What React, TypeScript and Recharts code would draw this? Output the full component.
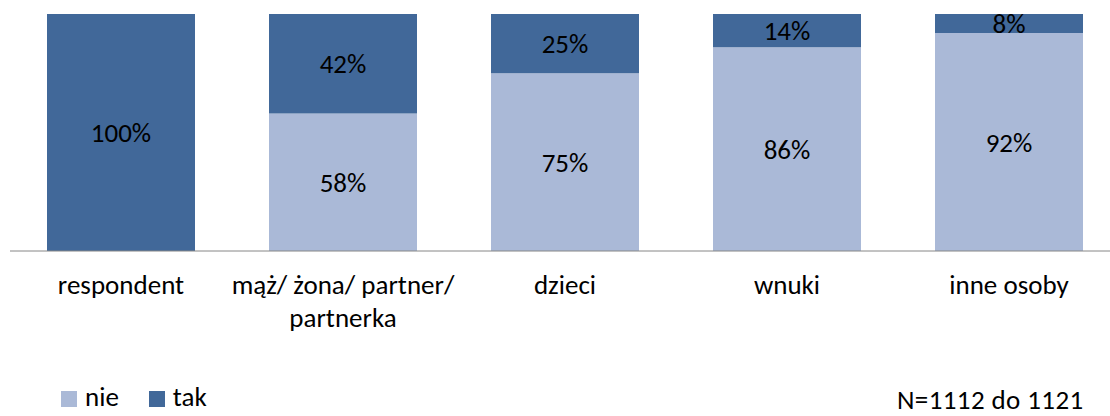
import React from 'react';
import { BarChart, Bar, XAxis, YAxis, LabelList, Legend } from 'recharts';

const categories = ['respondent', 'mąż/ żona/ partner/ partnerka', 'dzieci', 'wnuki', 'inne osoby'];
const nieValues = [0, 58, 75, 86, 92];
const takValues = [100, 42, 25, 14, 8];
const seriesNames = ['nie', 'tak'];
const seriesColors = ['#AAB9D7', '#416899'];
const sampleNote = 'N=1112 do 1121';

const FONT = 'Carlito, Lato, sans-serif';
const FONT_SIZE = 27;

const data = categories.map((c, i) => ({ name: c, nie: nieValues[i], tak: takValues[i] }));

function wrapLabel(text: string, maxChars: number): string[] {
  const words = text.split(' ');
  const lines: string[] = [];
  let cur = '';
  for (const w of words) {
    const next = cur ? cur + ' ' + w : w;
    if (next.length > maxChars && cur) {
      lines.push(cur);
      cur = w;
    } else {
      cur = next;
    }
  }
  if (cur) lines.push(cur);
  return lines;
}

const CategoryTick = (props: any) => {
  const { x, y, payload } = props;
  const lines = wrapLabel(String(payload.value), 20);
  return (
    <g>
      <text x={x} y={y} textAnchor="middle" fontFamily={FONT} fontSize={FONT_SIZE} fill="#000">
        {lines.map((l, i) => (
          <tspan key={i} x={x} y={y + 43 + i * 33}>
            {l}
          </tspan>
        ))}
      </text>
    </g>
  );
};

const LegendContent = (props: any) => {
  const { payload } = props;
  return (
    <div style={{ display: 'flex', alignItems: 'center', fontFamily: FONT, fontSize: FONT_SIZE, color: '#000', lineHeight: '26px', whiteSpace: 'nowrap' }}>
      {(payload || []).map((p: any, i: number) => (
        <div key={i} style={{ display: 'flex', alignItems: 'center', marginRight: 30 }}>
          <span style={{ display: 'inline-block', width: 16, height: 16, background: p.color, marginRight: 8, marginTop: 3 }} />
          <span>{p.value}</span>
        </div>
      ))}
    </div>
  );
};

const fmt = (v: any) => (v ? `${v}%` : '');

export default function App() {
  return (
    <div style={{ position: 'absolute', left: 0, top: 0, width: 1110, height: 416, overflow: 'hidden', background: '#fff' }}>
      <BarChart
        width={1120}
        height={416}
        data={data}
        margin={{ top: 14, right: 0, left: 10, bottom: 0 }}
        style={{ overflow: 'visible' }}
      >
        <XAxis
          dataKey="name"
          tickLine={false}
          tickSize={0}
          tickMargin={0}
          axisLine={{ stroke: '#868686', strokeWidth: 1 }}
          height={165}
          tick={<CategoryTick />}
          interval={0}
        />
        <YAxis hide domain={[0, 100]} />
        <Legend
          layout="vertical"
          align="center"
          verticalAlign="middle"
          content={<LegendContent />}
          wrapperStyle={{ left: 61, top: 384, width: 300, height: 28 }}
        />
        <Bar dataKey="nie" name={seriesNames[0]} stackId="s" fill={seriesColors[0]} barSize={148} isAnimationActive={false}>
          <LabelList dataKey="nie" position="center" formatter={fmt} fill="#000" fontSize={FONT_SIZE} fontFamily={FONT} />
        </Bar>
        <Bar dataKey="tak" name={seriesNames[1]} stackId="s" fill={seriesColors[1]} barSize={148} isAnimationActive={false}>
          <LabelList dataKey="tak" position="center" formatter={fmt} fill="#000" fontSize={FONT_SIZE} fontFamily={FONT} />
        </Bar>
      </BarChart>
      <div
        style={{
          position: 'absolute',
          left: 897,
          top: 387,
          fontFamily: FONT,
          fontSize: FONT_SIZE,
          lineHeight: '26px',
          letterSpacing: '0.4px',
          color: '#000',
          whiteSpace: 'nowrap',
        }}
      >
        {sampleNote}
      </div>
    </div>
  );
}
